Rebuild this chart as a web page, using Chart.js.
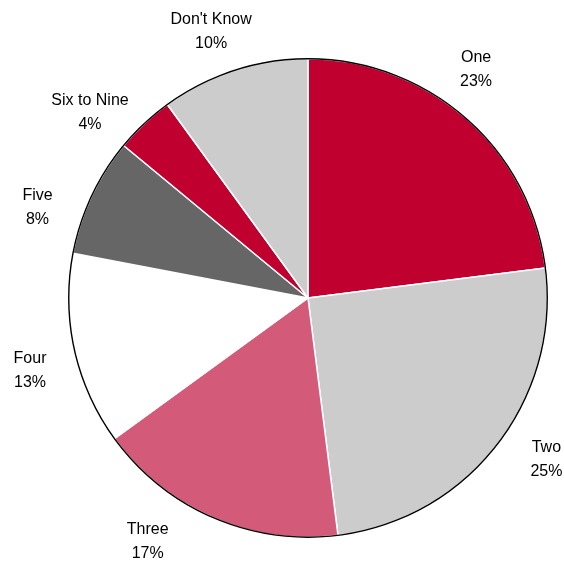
<!DOCTYPE html>
<html>

<head>
    <title>Pie</title>
    <script src="https://cdn.jsdelivr.net/npm/chart.js@4.4.2/dist/chart.umd.min.js"></script>
    <style>
        body {
            margin: 0;
            background: #ffffff;
        }

        #pie {
            display: block;
        }
    </style>
</head>

<body>
    <canvas id="pie" width="564" height="561"></canvas>
    <script>
        // categories and shares (percent), clockwise from 12 o'clock
        const categories = ['One', 'Two', 'Three', 'Four', 'Five', 'Six to Nine', "Don't Know"];
        const shares = [23, 25, 17, 13, 8, 4, 10];
        const sliceColors = ['#C0002F', '#CCCCCC', '#D45A79', '#FFFFFF', '#666666', '#C0002F', '#CCCCCC'];

        // nudges for the outside labels (degrees, px from rim)
        const labelTurn = [-5, -3.6, 10, -2, -6.7, -6.4, -2];
        const labelGap = [44, 49, 52, 48, 46, 47, 44];

        const outsideLabels = {
            id: 'outsideLabels',
            afterDatasetsDraw(chart) {
                const ctx = chart.ctx;
                const arcs = chart.getDatasetMeta(0).data;
                if (!arcs.length) return;
                const cx = arcs[0].x, cy = arcs[0].y, r = arcs[0].outerRadius;

                // black rim round the whole pie
                ctx.save();
                ctx.beginPath();
                ctx.arc(cx, cy, r, 0, Math.PI * 2);
                ctx.lineWidth = 1.4;
                ctx.strokeStyle = '#000000';
                ctx.stroke();

                ctx.font = '16px "Liberation Sans", Arial, sans-serif';
                ctx.fillStyle = '#000000';
                ctx.textAlign = 'center';
                ctx.textBaseline = 'middle';
                arcs.forEach((arc, i) => {
                    const mid = (arc.startAngle + arc.endAngle) / 2 + labelTurn[i] * Math.PI / 180;
                    const d = r + labelGap[i];
                    const x = cx + Math.cos(mid) * d;
                    const y = cy + Math.sin(mid) * d;
                    ctx.fillText(categories[i], x, y - 12);
                    ctx.fillText(shares[i] + '%', x, y + 12);
                });
                ctx.restore();
            }
        };

        new Chart(document.getElementById('pie').getContext('2d'), {
            type: 'pie',
            data: {
                labels: categories,
                datasets: [{
                    data: shares,
                    backgroundColor: sliceColors,
                    borderColor: '#FFFFFF',
                    borderWidth: 1.5
                }]
            },
            options: {
                responsive: false,
                animation: false,
                layout: {
                    padding: { left: 68, right: 16, top: 58, bottom: 23 }
                },
                plugins: {
                    legend: { display: false },
                    tooltip: { enabled: false }
                }
            },
            plugins: [outsideLabels]
        });
    </script>
</body>

</html>
